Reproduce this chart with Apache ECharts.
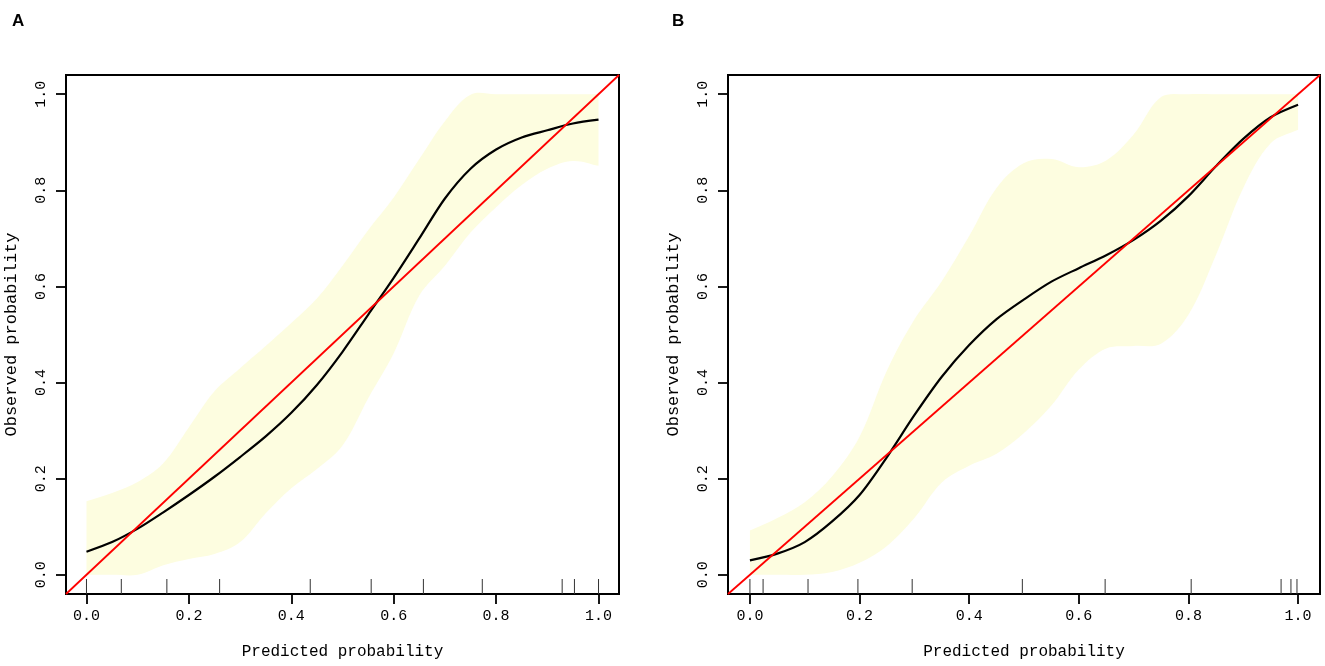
<!DOCTYPE html>
<html lang="en">
<head>
<meta charset="UTF-8">
<title>Calibration curves</title>
<script src="https://cdn.jsdelivr.net/npm/echarts@6/dist/echarts.min.js"></script>
<style>
    html, body { margin: 0; padding: 0; background: #fff; }
    #chart { width: 1325px; height: 666px; }
</style>
</head>
<body>
<div id="chart"></div>
<script>
    // predicted probability grid the curves were read on
    var predicted = [0, 0.05, 0.1, 0.15, 0.2, 0.25, 0.3, 0.35, 0.4, 0.45, 0.5,
                     0.55, 0.6, 0.65, 0.7, 0.75, 0.8, 0.85, 0.9, 0.95, 1.0];

    // panel A
    var curveA = [0.048, 0.068, 0.096, 0.130, 0.166, 0.204, 0.245, 0.288, 0.337, 0.395, 0.464,
                  0.541, 0.618, 0.700, 0.783, 0.845, 0.885, 0.910, 0.925, 0.939, 0.947];
    var upperA = [0.153, 0.170, 0.193, 0.232, 0.307, 0.382, 0.430, 0.476, 0.524, 0.575, 0.643,
                  0.717, 0.785, 0.865, 0.944, 0.999, 1.0, 1.0, 1.0, 1.0, 1.0];
    var lowerA = [0.0, 0.0, 0.0, 0.020, 0.033, 0.043, 0.068, 0.128, 0.180, 0.220, 0.269,
                  0.367, 0.461, 0.581, 0.643, 0.712, 0.765, 0.811, 0.845, 0.861, 0.851];
    var rugA = [0.0, 0.068, 0.157, 0.26, 0.437, 0.556, 0.658, 0.773, 0.929, 0.953, 1.0];

    // panel B
    var curveB = [0.030, 0.044, 0.068, 0.111, 0.166, 0.245, 0.332, 0.412, 0.478, 0.532, 0.573,
                  0.610, 0.638, 0.665, 0.697, 0.737, 0.788, 0.850, 0.907, 0.952, 0.978];
    var upperB = [0.092, 0.118, 0.151, 0.205, 0.287, 0.425, 0.531, 0.611, 0.705, 0.805, 0.857,
                  0.865, 0.848, 0.862, 0.916, 0.994, 1.0, 1.0, 1.0, 1.0, 1.0];
    var lowerB = [0.0, 0.0, 0.0, 0.006, 0.025, 0.060, 0.118, 0.192, 0.227, 0.252, 0.295,
                  0.352, 0.427, 0.471, 0.476, 0.481, 0.541, 0.665, 0.805, 0.898, 0.926];
    var rugB = [0.0, 0.024, 0.106, 0.197, 0.296, 0.497, 0.648, 0.805, 0.969, 0.987, 0.998];

    var tickValues = [0, 0.2, 0.4, 0.6, 0.8, 1.0];
    var diagonal = [-0.04, 1.04];   // ideal line, corner to corner

    var FONT = 'Liberation Mono';

    function bandRender(upper, lower) {
        return function (params, api) {
            var n = predicted.length;
            var pts = [];
            // corner points doubled so the smoothing keeps the band's end edges straight
            pts.push(api.coord([predicted[0], upper[0]]));
            for (var i = 0; i < n; i++) {
                pts.push(api.coord([predicted[i], upper[i]]));
            }
            pts.push(api.coord([predicted[n - 1], upper[n - 1]]));
            pts.push(api.coord([predicted[n - 1], lower[n - 1]]));
            for (var j = n - 1; j >= 0; j--) {
                pts.push(api.coord([predicted[j], lower[j]]));
            }
            pts.push(api.coord([predicted[0], lower[0]]));
            return {
                type: 'polygon',
                shape: { points: pts, smooth: 0.35 },
                style: { fill: '#fdfde0', stroke: null }
            };
        };
    }

    function rugRender(params, api) {
        var p = api.coord([api.value(0), api.value(1)]);
        return {
            type: 'line',
            shape: { x1: p[0], y1: p[1], x2: p[0], y2: p[1] - 15 },
            style: { stroke: '#333', lineWidth: 1 }
        };
    }

    function xAxisCfg(gi) {
        return {
            type: 'value', gridIndex: gi, min: -0.04, max: 1.04,
            name: 'Predicted probability', nameLocation: 'middle', nameGap: 50,
            nameTextStyle: { fontFamily: FONT, fontSize: 16, color: '#000' },
            axisLine: { show: false, onZero: false },
            axisTick: { show: true, customValues: tickValues, length: 10,
                        lineStyle: { color: '#000', width: 1.8 } },
            axisLabel: { customValues: tickValues, margin: 15, fontFamily: FONT, fontSize: 15,
                         color: '#000', formatter: function (v) { return v.toFixed(1); } },
            splitLine: { show: false }
        };
    }

    function yAxisCfg(gi) {
        return {
            type: 'value', gridIndex: gi, min: -0.04, max: 1.04,
            name: 'Observed probability', nameLocation: 'middle', nameGap: 46,
            nameTextStyle: { fontFamily: FONT, fontSize: 17, color: '#000' },
            axisLine: { show: false, onZero: false },
            axisTick: { show: true, customValues: tickValues, length: 10,
                        lineStyle: { color: '#000', width: 1.8 } },
            axisLabel: { customValues: tickValues, margin: 17, rotate: 90, fontFamily: FONT, fontSize: 15,
                         color: '#000', formatter: function (v) { return v.toFixed(1); } },
            splitLine: { show: false }
        };
    }

    function panelSeries(gi, curve, upper, lower, rug) {
        return [
            {
                type: 'custom', xAxisIndex: gi, yAxisIndex: gi, z: 1, silent: true,
                renderItem: bandRender(upper, lower),
                data: [[0.5, 0.5]]
            },
            {
                type: 'custom', xAxisIndex: gi, yAxisIndex: gi, z: 2, silent: true,
                renderItem: rugRender,
                data: rug.map(function (x) { return [x, -0.04]; })
            },
            {
                type: 'line', xAxisIndex: gi, yAxisIndex: gi, z: 3,
                data: predicted.map(function (x, i) { return [x, curve[i]]; }),
                smooth: 0.3, showSymbol: false,
                lineStyle: { color: '#000', width: 2.2 }
            },
            {
                type: 'line', xAxisIndex: gi, yAxisIndex: gi, z: 4,
                data: [[diagonal[0], diagonal[0]], [diagonal[1], diagonal[1]]],
                showSymbol: false,
                lineStyle: { color: '#ff0000', width: 1.8 }
            }
        ];
    }

    var option = {
        animation: false,
        backgroundColor: '#fff',
        title: [
            { text: 'A', left: 7, top: 8,
              textStyle: { fontFamily: 'Liberation Sans', fontWeight: 'bold', fontSize: 17, color: '#000' } },
            { text: 'B', left: 667, top: 8,
              textStyle: { fontFamily: 'Liberation Sans', fontWeight: 'bold', fontSize: 17, color: '#000' } }
        ],
        grid: [
            { left: 66, top: 75, width: 553, height: 519, show: true,
              borderColor: '#000', borderWidth: 2, backgroundColor: 'transparent' },
            { left: 728, top: 75, width: 592, height: 519, show: true,
              borderColor: '#000', borderWidth: 2, backgroundColor: 'transparent' }
        ],
        xAxis: [xAxisCfg(0), xAxisCfg(1)],
        yAxis: [yAxisCfg(0), yAxisCfg(1)],
        series: panelSeries(0, curveA, upperA, lowerA, rugA)
            .concat(panelSeries(1, curveB, upperB, lowerB, rugB))
    };

    var myChart = echarts.init(document.getElementById('chart'));
    myChart.setOption(option);
</script>
</body>
</html>
